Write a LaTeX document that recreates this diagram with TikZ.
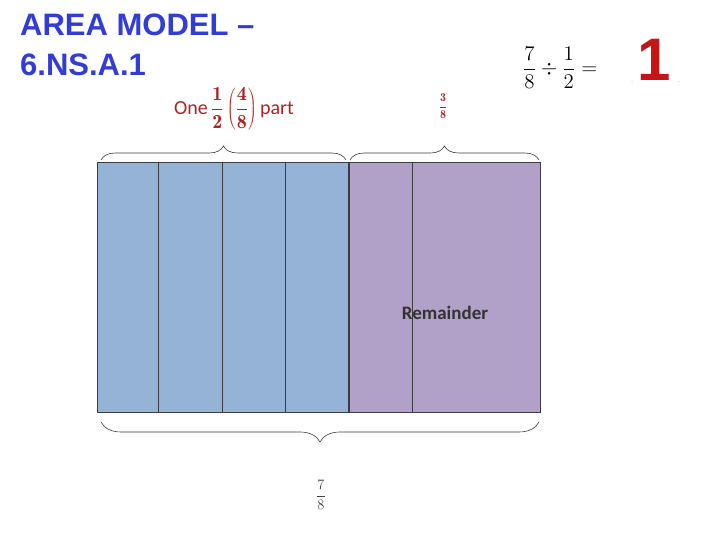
\documentclass[tikz,border=0pt]{standalone}
\usepackage{graphicx}
\usepackage{fontspec}
\setsansfont{Liberation Sans}
\newfontfamily\carl{Carlito}
\usetikzlibrary{decorations.pathreplacing}
\definecolor{bluefill}{RGB}{149,179,215}
\definecolor{purfill}{RGB}{177,160,199}
\definecolor{titleblue}{RGB}{50,60,215}
\definecolor{lblred}{RGB}{175,35,35}
\definecolor{bigred}{RGB}{200,20,20}
\definecolor{edge}{RGB}{60,60,60}
\tikzset{
  cell/.style={draw=edge, line width=0.8pt},
  br/.style={draw=edge, line width=0.6pt, decorate, decoration={brace, amplitude=14pt}},
  lbl/.style={text=lblred, font=\carl\fontsize{20}{24}\selectfont}
}
\begin{document}
\begin{tikzpicture}[x=1pt,y=1pt]
\useasboundingbox (0,0) rectangle (720,540);
% title
\node[anchor=north west, align=left, text=titleblue, font=\sffamily\bfseries\fontsize{31}{40}\selectfont, inner sep=0] (title) at (20,526) {AREA MODEL --\\6.NS.A.1};
% equation
\node (eq) at (560,472) {\scalebox{1.45}{\Large$\displaystyle\frac{7}{8}\div\frac{1}{2}=$}};
\node[text=bigred, font=\sffamily\bfseries\fontsize{60}{60}\selectfont] (one) at (654,480) {1};
\node[font=\tiny] (d1) at (632,458) {.};
\node[font=\tiny] (d2) at (679,458) {.};
% rectangles
\path[fill=bluefill] (97,127) rectangle (348,377);
\path[fill=purfill] (349,127) rectangle (540,377);
\node[cell, minimum width=61pt, minimum height=250pt, inner sep=0, anchor=south west] (c1) at (97,127) {};
\node[cell, minimum width=64pt, minimum height=250pt, inner sep=0, anchor=south west] (c2) at (158,127) {};
\node[cell, minimum width=63pt, minimum height=250pt, inner sep=0, anchor=south west] (c3) at (222,127) {};
\node[cell, minimum width=63pt, minimum height=250pt, inner sep=0, anchor=south west] (c4) at (285,127) {};
\node[cell, minimum width=63pt, minimum height=250pt, inner sep=0, anchor=south west] (c5) at (349,127) {};
\node[cell, minimum width=128pt, minimum height=250pt, inner sep=0, anchor=south west] (c6) at (412,127) {};
\node[font=\carl\bfseries\fontsize{19}{22}\selectfont, text=black!80] (rem) at (445,227) {Remainder};
% braces
\coordinate (b1a) at (101,380);
\coordinate (b1b) at (346,380);
\coordinate (b2a) at (350,380);
\coordinate (b2b) at (539,380);
\coordinate (b3a) at (539,118);
\coordinate (b3b) at (101,118);
\draw[br] (b1a) -- (b1b);
\draw[br] (b2a) -- (b2b);
\draw[br, decoration={amplitude=20pt}] (b3a) -- (b3b);
% labels
\node[lbl] (l1) at (234,431) {One\,$\displaystyle\frac{\mathbf{1}}{\mathbf{2}}$\,$\left(\displaystyle\frac{\mathbf{4}}{\mathbf{8}}\right)$\,part};
\node[text=lblred] (l2) at (443,434) {\large$\displaystyle\frac{\mathbf{3}}{\mathbf{8}}$};
\node[text=black!75] (l3) at (321,45) {\Large$\displaystyle\frac{7}{8}$};
\end{tikzpicture}
\end{document}
